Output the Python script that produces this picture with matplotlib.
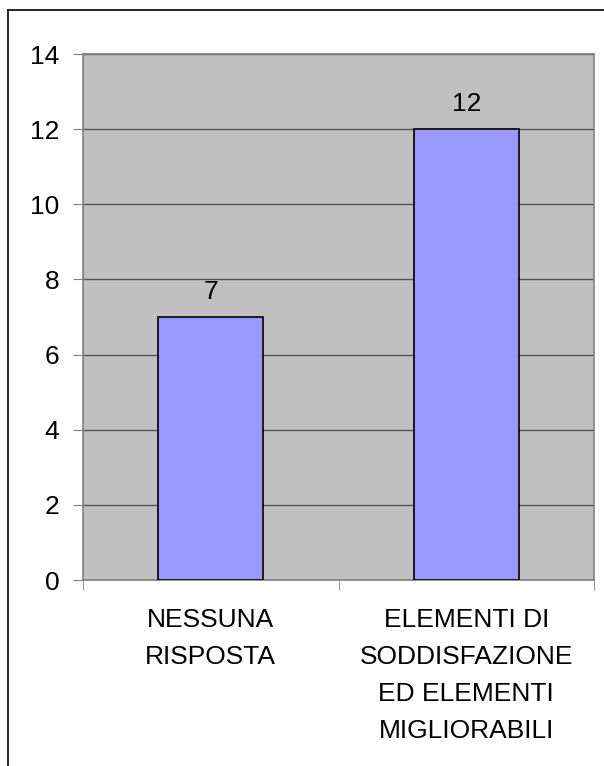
import matplotlib
matplotlib.use("Agg")
import matplotlib.pyplot as plt
from matplotlib.lines import Line2D

categories = ["NESSUNA\nRISPOSTA", "ELEMENTI DI\nSODDISFAZIONE\nED ELEMENTI\nMIGLIORABILI"]
values = [7, 12]
yticks = [0, 2, 4, 6, 8, 10, 12, 14]

plt.rcParams["font.family"] = ["Liberation Sans", "DejaVu Sans"]

fig = plt.figure(figsize=(6.04, 7.66), dpi=100)
fig.patch.set_facecolor("white")

# outer frame (only left and top edges fall inside the picture)
W, H = 604, 766
fig.add_artist(Line2D([8 / W, 8 / W], [0, 1 - 10 / H], transform=fig.transFigure, color="black", lw=1.2))
fig.add_artist(Line2D([8 / W, 1], [1 - 10 / H, 1 - 10 / H], transform=fig.transFigure, color="black", lw=1.2))

ax = fig.add_axes([83 / W, 186 / H, 511 / W, 526 / H])
ax.set_facecolor("#C0C0C0")

x = list(range(len(values)))
ax.bar(x, values, width=0.41, color="#9999FF", edgecolor="black", linewidth=1.2, zorder=3)
for xi, v in zip(x, values):
    ax.text(xi, v + 0.48, str(v), ha="center", va="baseline", fontsize=19, zorder=4)

ax.set_xlim(-0.5, len(values) - 0.5)
ax.set_ylim(0, 14)
ax.set_yticks(yticks)
ax.yaxis.grid(True, color="#555555", lw=1.0, zorder=1)
ax.set_axisbelow(True)

ax.set_xticks(x)
ax.set_xticklabels(categories, fontsize=19, linespacing=1.68)
ax.set_xticks([-0.5, 0.5, 1.5], minor=True)
ax.tick_params(axis="x", which="major", length=0, pad=20)
ax.tick_params(axis="x", which="minor", length=7, color="#808080")
ax.tick_params(axis="y", length=7, color="#808080", labelsize=19, pad=10)

for side in ["top", "right", "left", "bottom"]:
    ax.spines[side].set_color("#808080")
    ax.spines[side].set_linewidth(1.2)

fig.savefig("out.png", dpi=100, facecolor="white")
